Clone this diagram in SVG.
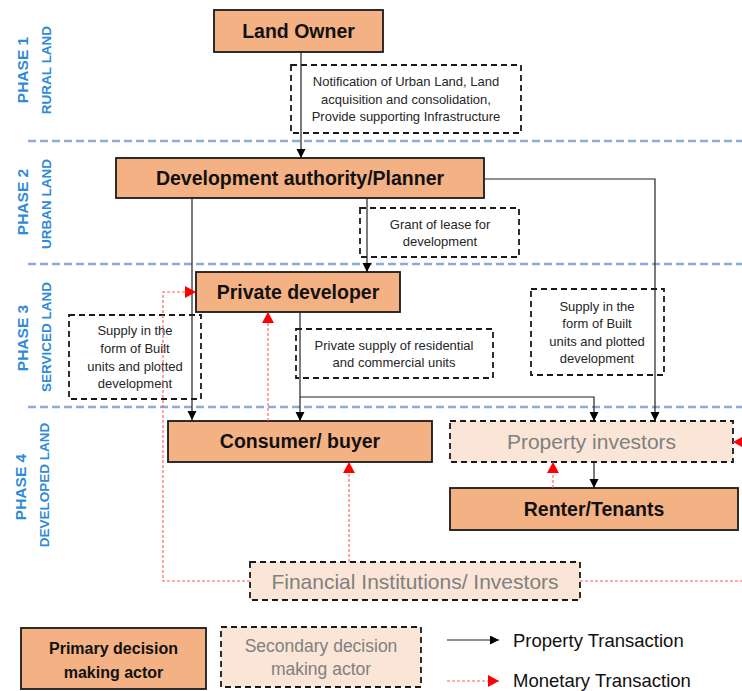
<svg xmlns="http://www.w3.org/2000/svg" width="742" height="691" viewBox="0 0 742 691">
  <style>
    .primary { fill: #f4b183; stroke: #1a1a1a; stroke-width: 1.8; }
    .secondary { fill: #fbe5d6; stroke: #1a1a1a; stroke-width: 1.8; stroke-dasharray: 6 4; }
    .note { fill: none; stroke: #1a1a1a; stroke-width: 1.8; stroke-dasharray: 6 4; }
    .title { font-family: "Liberation Sans", Arial, sans-serif; font-weight: bold; font-size: 19.5px; fill: #111; text-anchor: middle; }
    .title2 { font-family: "Liberation Sans", Arial, sans-serif; font-size: 21px; fill: #808080; text-anchor: middle; }
    .small { font-family: "Liberation Sans", Arial, sans-serif; font-size: 13px; fill: #262626; text-anchor: middle; }
    .phase { font-family: "Liberation Sans", Arial, sans-serif; font-weight: bold; font-size: 15.5px; fill: #2f8ad8; text-anchor: middle; }
    .zone { font-family: "Liberation Sans", Arial, sans-serif; font-weight: bold; font-size: 13.5px; fill: #2f8ad8; text-anchor: middle; }
    .divider { stroke: #8eaadb; stroke-width: 2.5; stroke-dasharray: 8 4; fill: none; }
    .prop { stroke: #222; stroke-width: 1.2; fill: none; marker-end: url(#blackHead); }
    .money { stroke: #ff5a5a; stroke-width: 1.1; stroke-dasharray: 3 2; fill: none; marker-end: url(#redHead); }
    .legend { font-family: "Liberation Sans", Arial, sans-serif; font-size: 18.5px; fill: #111; }
  </style>
  <defs>
    <marker id="blackHead" markerUnits="userSpaceOnUse" markerWidth="10" markerHeight="10" refX="9" refY="4.5" orient="auto">
      <path d="M0,0 L9,4.5 L0,9 z" fill="#000"/>
    </marker>
    <marker id="redHead" markerUnits="userSpaceOnUse" markerWidth="12" markerHeight="13" refX="11" refY="6" orient="auto">
      <path d="M0,0 L11,6 L0,12 z" fill="#ff0000"/>
    </marker>
  </defs>

  <rect width="742" height="691" fill="#fff"/>

  <!-- phase bands -->
  <g id="phases">
    <text class="phase" transform="translate(28,70) rotate(-90)">PHASE 1</text>
    <text class="zone" transform="translate(51,70) rotate(-90)">RURAL LAND</text>
    <text class="phase" transform="translate(28,202) rotate(-90)">PHASE 2</text>
    <text class="zone" transform="translate(51,204) rotate(-90)">URBAN LAND</text>
    <text class="phase" transform="translate(28,338) rotate(-90)">PHASE 3</text>
    <text class="zone" transform="translate(51,337) rotate(-90)">SERVICED LAND</text>
    <text class="phase" transform="translate(26,487) rotate(-90)">PHASE 4</text>
    <text class="zone" transform="translate(49,485) rotate(-90)">DEVELOPED LAND</text>
    <path class="divider" d="M28,141 H742"/>
    <path class="divider" d="M28,264 H742"/>
    <path class="divider" d="M28,407 H742"/>
  </g>

  <!-- actors -->
  <g id="land-owner">
    <rect class="primary" x="214" y="10" width="169" height="42"/>
    <text class="title" x="298.5" y="38">Land Owner</text>
  </g>
  <g id="development-authority">
    <rect class="primary" x="116" y="158" width="368" height="40"/>
    <text class="title" x="300" y="185">Development authority/Planner</text>
  </g>
  <g id="private-developer">
    <rect class="primary" x="196" y="272" width="204" height="40"/>
    <text class="title" x="298" y="299">Private developer</text>
  </g>
  <g id="consumer-buyer">
    <rect class="primary" x="168" y="421" width="264" height="41"/>
    <text class="title" x="300" y="448">Consumer/ buyer</text>
  </g>
  <g id="property-investors">
    <rect class="secondary" x="450" y="421" width="283" height="41"/>
    <text class="title2" x="591.5" y="449">Property investors</text>
  </g>
  <g id="renter-tenants">
    <rect class="primary" x="450" y="488" width="288" height="42"/>
    <text class="title" x="594" y="516">Renter/Tenants</text>
  </g>
  <g id="financial-institutions">
    <rect class="secondary" x="250" y="562" width="330" height="38"/>
    <text class="title2" x="415" y="589">Financial  Institutions/ Investors</text>
  </g>

  <!-- transaction notes -->
  <g id="note-notification">
    <rect class="note" x="291" y="65" width="230" height="68"/>
    <text class="small" x="406" y="86">Notification of Urban Land, Land</text>
    <text class="small" x="406" y="104">acquisition and  consolidation,</text>
    <text class="small" x="406" y="121">Provide supporting Infrastructure</text>
  </g>
  <g id="note-lease">
    <rect class="note" x="360" y="208" width="159" height="49"/>
    <text class="small" x="440" y="229">Grant of lease for</text>
    <text class="small" x="440" y="246">development</text>
  </g>
  <g id="note-supply-left">
    <rect class="note" x="69" y="315" width="132" height="84"/>
    <text class="small" x="135" y="335">Supply in the</text>
    <text class="small" x="135" y="353">form of Built</text>
    <text class="small" x="135" y="371">units and plotted</text>
    <text class="small" x="135" y="388">development</text>
  </g>
  <g id="note-private-supply">
    <rect class="note" x="296" y="329" width="197" height="49"/>
    <text class="small" x="394" y="350">Private supply of residential</text>
    <text class="small" x="394" y="367">and commercial units</text>
  </g>
  <g id="note-supply-right">
    <rect class="note" x="531" y="289" width="133" height="86"/>
    <text class="small" x="597" y="311">Supply in the</text>
    <text class="small" x="597" y="328">form of Built</text>
    <text class="small" x="597" y="346">units and plotted</text>
    <text class="small" x="597" y="363">development</text>
  </g>

  <!-- connectors -->
  <g id="connectors">
    <path class="prop" d="M301,52 V158"/>
    <path class="prop" d="M192,198 V420"/>
    <path class="prop" d="M367,198 V272"/>
    <path class="prop" d="M484,179 H655 V421" stroke="#555"/>
    <path class="prop" d="M300,312 V421"/>
    <path class="prop" d="M300,397 H594 V421"/>
    <path class="prop" d="M594,462 V488"/>

    <path class="money" d="M250,581 H163 V292 H196"/>
    <path class="money" d="M268,421 V312"/>
    <path class="money" d="M349,562 V462"/>
    <path class="money" d="M553,488 V462"/>
    <path class="money" d="M580,581 H760 V442 H733"/>
  </g>

  <!-- legend -->
  <g id="legend">
    <g id="legend-primary">
      <rect class="primary" x="21" y="628" width="185" height="61"/>
      <text class="title" x="113.5" y="654" style="font-size:16px">Primary decision</text>
      <text class="title" x="113.5" y="678" style="font-size:16px">making actor</text>
    </g>
    <g id="legend-secondary">
      <rect class="secondary" x="221" y="627" width="200" height="60"/>
      <text class="title2" x="321" y="652" style="font-size:17.5px">Secondary  decision</text>
      <text class="title2" x="321" y="675" style="font-size:17.5px">making actor</text>
    </g>
    <path class="prop" d="M447,640 H499"/>
    <text class="legend" x="513" y="647">Property Transaction</text>
    <path class="money" d="M447,681 H499"/>
    <text class="legend" x="513" y="687">Monetary Transaction</text>
  </g>
</svg>
